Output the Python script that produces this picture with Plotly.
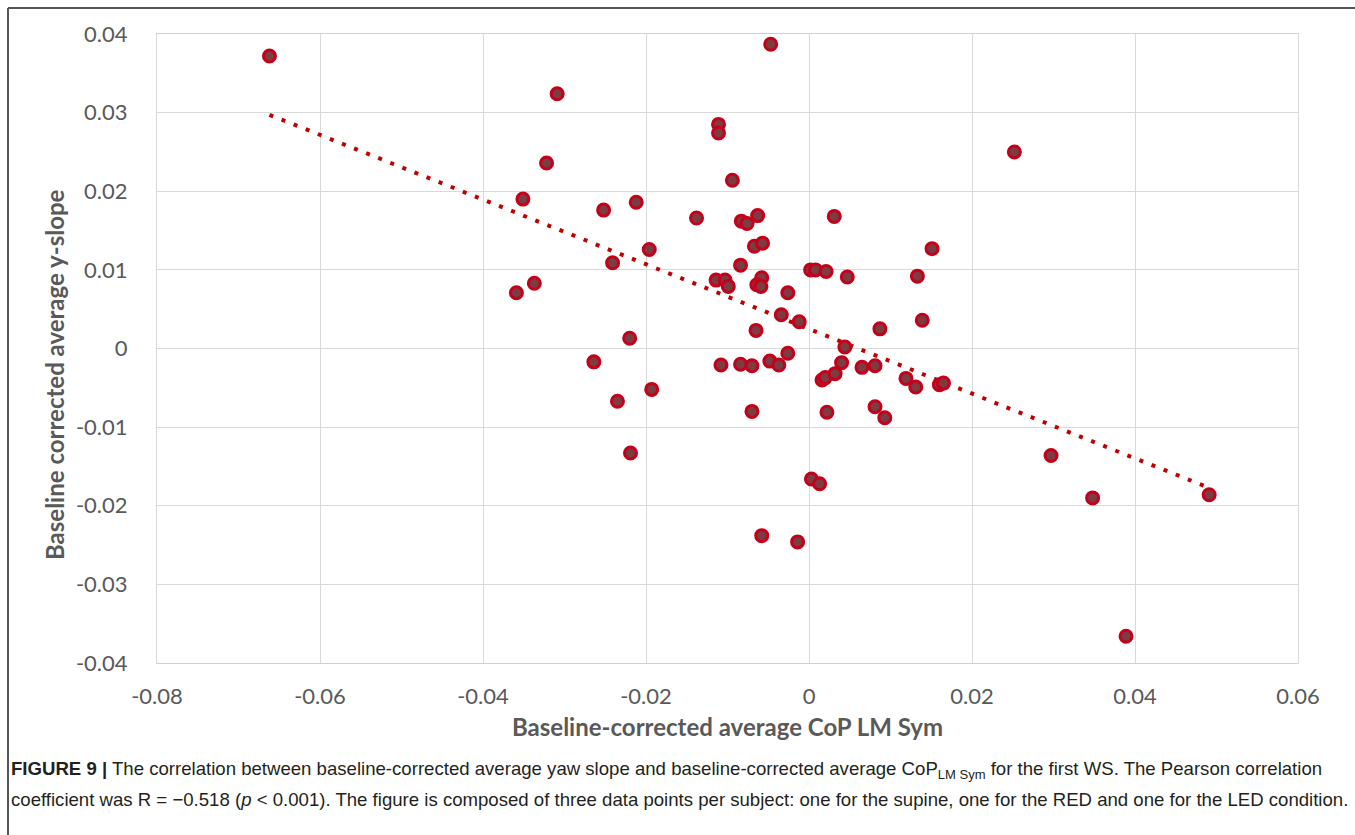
import numpy as np
import plotly.graph_objects as go

# Baseline-corrected average CoP LM Sym (x) and average y-slope (y), three points per subject
cop_lm_sym = [
    -0.0662, -0.0309, -0.0322, -0.0351, -0.0359, -0.0337, -0.0252, -0.0212, -0.0241, -0.0196,
    -0.0220, -0.0138, -0.0111, -0.0111, -0.0094, -0.0047, -0.0083, -0.0076, -0.0063, -0.0067,
    -0.0057, -0.0084, -0.0114, -0.0103, -0.0099, -0.0058, -0.0064, -0.0059, -0.0026, 0.0002,
    0.0008, 0.0021, 0.0047, 0.0031, -0.0034, -0.0012, -0.0065, 0.0044, 0.0087, 0.0252,
    0.0151, 0.0133, 0.0139, -0.0264, -0.0235, -0.0193, -0.0219, -0.0108, -0.0084, -0.0070,
    -0.0070, -0.0048, -0.0037, -0.0026, 0.0016, 0.0020, 0.0032, 0.0040, 0.0022, 0.0003,
    0.0013, -0.0058, -0.0014, 0.0065, 0.0081, 0.0081, 0.0093, 0.0119, 0.0131, 0.0160,
    0.0165, 0.0297, 0.0348, 0.0389, 0.0491,
]
y_slope = [
    0.0372, 0.0324, 0.0236, 0.0190, 0.0071, 0.0083, 0.0176, 0.0186, 0.0109, 0.0126,
    0.0013, 0.0166, 0.0285, 0.0274, 0.0214, 0.0387, 0.0162, 0.0159, 0.0169, 0.0130,
    0.0134, 0.0106, 0.0087, 0.0087, 0.0079, 0.0090, 0.0081, 0.0079, 0.0071, 0.0100,
    0.0100, 0.0098, 0.0091, 0.0168, 0.0043, 0.0034, 0.0023, 0.0002, 0.0025, 0.0250,
    0.0127, 0.0092, 0.0036, -0.0017, -0.0067, -0.0052, -0.0133, -0.0021, -0.0020, -0.0022,
    -0.0080, -0.0016, -0.0021, -0.0006, -0.0040, -0.0037, -0.0032, -0.0018, -0.0081, -0.0166,
    -0.0172, -0.0238, -0.0246, -0.0024, -0.0022, -0.0074, -0.0088, -0.0038, -0.0049, -0.0046,
    -0.0044, -0.0136, -0.0190, -0.0366, -0.0186,
]

x_tick_vals = [-0.08, -0.06, -0.04, -0.02, 0, 0.02, 0.04, 0.06]
x_tick_text = ["-0.08", "-0.06", "-0.04", "-0.02", "0", "0.02", "0.04", "0.06"]
y_tick_vals = [-0.04, -0.03, -0.02, -0.01, 0, 0.01, 0.02, 0.03, 0.04]
y_tick_text = ["-0.04", "-0.03", "-0.02", "-0.01", "0", "0.01", "0.02", "0.03", "0.04"]

x_title = "Baseline-corrected average CoP LM Sym"
y_title = "Baseline corrected average y-slope"
caption_1 = ("<b>FIGURE 9 |</b> The correlation between baseline-corrected average yaw slope and "
             "baseline-corrected average CoP<sub>LM Sym</sub> for the first WS. The Pearson correlation")
caption_2 = ("coefficient was R = \u22120.518 (<i>p</i> < 0.001). The figure is composed of three data "
             "points per subject: one for the supine, one for the RED and one for the LED condition.")

# Linear least-squares trendline over the data range
xs = np.array(cop_lm_sym)
ys = np.array(y_slope)
slope, intercept = np.polyfit(xs, ys, 1)
trend_x = np.array([xs.min(), xs.max()])
trend_y = slope * trend_x + intercept

W, H = 1355, 835
L, R, T, B = 157, 57, 34, 172
plot_w, plot_h = W - L - R, H - T - B


def px_x(p):
    return (p - L) / plot_w


def px_y(p):
    return (H - B - p) / plot_h


GRAY = "#595959"
TICK_FONT = dict(family="Lato, Carlito, Open Sans, sans-serif", size=22, color=GRAY)
TITLE_FONT = dict(family="Lato, Open Sans, sans-serif", size=24, color=GRAY, weight="bold")
CAPTION_FONT = dict(family="Liberation Sans, Arial, sans-serif", size=18.6, color="#231f20")

fig = go.Figure()
fig.add_trace(go.Scatter(
    x=trend_x, y=trend_y, mode="lines",
    line=dict(color="#c00000", width=4, dash="4px,9px"),
    hoverinfo="skip", showlegend=False,
))
fig.add_trace(go.Scatter(
    x=cop_lm_sym, y=y_slope, mode="markers",
    marker=dict(size=12, color="#7d3b42", line=dict(color="#c4001a", width=3)),
    showlegend=False,
))

fig.update_xaxes(
    range=[-0.08, 0.06], tickvals=x_tick_vals, ticktext=x_tick_text,
    showgrid=True, gridcolor="#d9d9d9", gridwidth=1, zeroline=False,
    showline=True, linecolor="#d0d0d0", linewidth=1, mirror=True,
    ticks="", tickfont=TICK_FONT, ticklabelstandoff=14,
)
fig.update_yaxes(
    range=[-0.04, 0.04], tickvals=y_tick_vals, ticktext=y_tick_text,
    showgrid=True, gridcolor="#d9d9d9", gridwidth=1, zeroline=False,
    showline=True, linecolor="#d9d9d9", linewidth=1, mirror=True,
    ticks="", tickfont=TICK_FONT, ticklabelstandoff=24,
)

annotations = [
    dict(text=x_title, x=0.5, y=px_y(726), xref="paper", yref="paper", showarrow=False,
         font=TITLE_FONT, xanchor="center", yanchor="middle"),
    dict(text=y_title, x=px_x(55), y=px_y(375), xref="paper", yref="paper", showarrow=False,
         textangle=-90, font=TITLE_FONT, xanchor="center", yanchor="middle"),
    dict(text=caption_1, x=px_x(9), y=px_y(770), xref="paper", yref="paper", showarrow=False,
         font=CAPTION_FONT, xanchor="left", yanchor="middle", align="left"),
    dict(text=caption_2, x=px_x(9), y=px_y(799), xref="paper", yref="paper", showarrow=False,
         font=CAPTION_FONT, xanchor="left", yanchor="middle", align="left"),
]

# Open frame around the figure panel: left and top edges
shapes = [
    dict(type="line", xref="paper", yref="paper", x0=px_x(8), x1=px_x(8), y0=px_y(8), y1=px_y(835),
         line=dict(color="#555555", width=2)),
    dict(type="line", xref="paper", yref="paper", x0=px_x(8), x1=px_x(1355), y0=px_y(8), y1=px_y(8),
         line=dict(color="#555555", width=2)),
]

fig.update_layout(
    width=W, height=H,
    margin=dict(l=L, r=R, t=T, b=B),
    paper_bgcolor="white", plot_bgcolor="white",
    annotations=annotations, shapes=shapes,
)

fig.write_html("out.html")
